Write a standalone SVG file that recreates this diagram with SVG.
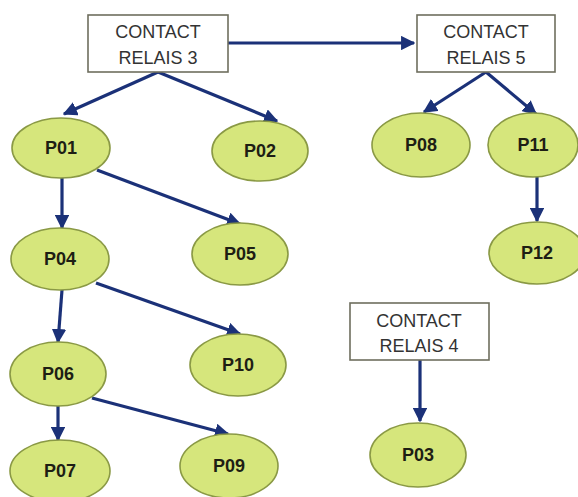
<svg xmlns="http://www.w3.org/2000/svg" width="578" height="497" viewBox="0 0 578 497">
<style>
.box{fill:#fff;stroke:#6e6e5e;stroke-width:1.6}
.bt{font-family:"Liberation Sans",Arial,sans-serif;font-size:18px;fill:#333;text-anchor:middle}
.el{fill:#d6e67c;stroke:#8a9945;stroke-width:1.6}
.et{font-family:"Liberation Sans",Arial,sans-serif;font-size:18px;font-weight:bold;fill:#1e1e14;text-anchor:middle}
.c{stroke:#1b3178;stroke-width:3.2;fill:none;marker-end:url(#ah)}
</style>
<defs>
<marker id="ah" viewBox="0 0 10 10" refX="9" refY="5" markerWidth="4.5" markerHeight="4.5" orient="auto" markerUnits="strokeWidth">
<path d="M0,0 L10,5 L0,10 z" fill="#1b3178"/>
</marker>
</defs>
<rect width="578" height="497" fill="#fff"/>
<g id="connectors">
<line class="c" x1="158" y1="72" x2="64" y2="114"/>
<line class="c" x1="158" y1="72" x2="277" y2="121"/>
<line class="c" x1="228" y1="43" x2="414" y2="43"/>
<line class="c" x1="486" y1="72" x2="424" y2="112"/>
<line class="c" x1="486" y1="72" x2="536" y2="114"/>
<line class="c" x1="537" y1="177" x2="537" y2="221"/>
<line class="c" x1="62" y1="178" x2="62" y2="228"/>
<line class="c" x1="97" y1="170" x2="240" y2="224"/>
<line class="c" x1="62" y1="290" x2="58" y2="342"/>
<line class="c" x1="96" y1="283" x2="240" y2="334"/>
<line class="c" x1="58" y1="406" x2="58" y2="440"/>
<line class="c" x1="92" y1="398" x2="228" y2="434"/>
<line class="c" x1="420" y1="360" x2="420" y2="421"/>
</g>
<g id="relais3"><rect class="box" x="88" y="15" width="140" height="57"/><text class="bt" x="158" y="38">CONTACT</text><text class="bt" x="158" y="64">RELAIS 3</text></g>
<g id="relais5"><rect class="box" x="417" y="15" width="138" height="57"/><text class="bt" x="486" y="38">CONTACT</text><text class="bt" x="486" y="64">RELAIS 5</text></g>
<g id="relais4"><rect class="box" x="350" y="303" width="139" height="57"/><text class="bt" x="419" y="327">CONTACT</text><text class="bt" x="419" y="352">RELAIS 4</text></g>
<g id="P01"><ellipse class="el" cx="61" cy="148" rx="49" ry="30"/><text class="et" x="61" y="154">P01</text></g>
<g id="P02"><ellipse class="el" cx="260" cy="151" rx="48" ry="30"/><text class="et" x="260" y="157">P02</text></g>
<g id="P08"><ellipse class="el" cx="421" cy="145" rx="49" ry="32"/><text class="et" x="421" y="151">P08</text></g>
<g id="P11"><ellipse class="el" cx="533" cy="145" rx="45" ry="32"/><text class="et" x="533" y="151">P11</text></g>
<g id="P12"><ellipse class="el" cx="537" cy="253" rx="48" ry="31"/><text class="et" x="537" y="259">P12</text></g>
<g id="P04"><ellipse class="el" cx="60" cy="259" rx="49" ry="31"/><text class="et" x="60" y="265">P04</text></g>
<g id="P05"><ellipse class="el" cx="240" cy="254" rx="48" ry="31"/><text class="et" x="240" y="260">P05</text></g>
<g id="P06"><ellipse class="el" cx="58" cy="374" rx="48" ry="32"/><text class="et" x="58" y="380">P06</text></g>
<g id="P10"><ellipse class="el" cx="238" cy="365" rx="48" ry="31"/><text class="et" x="238" y="371">P10</text></g>
<g id="P07"><ellipse class="el" cx="60" cy="471" rx="50" ry="31"/><text class="et" x="60" y="477">P07</text></g>
<g id="P09"><ellipse class="el" cx="229" cy="466" rx="49" ry="32"/><text class="et" x="229" y="472">P09</text></g>
<g id="P03"><ellipse class="el" cx="418" cy="455" rx="48" ry="32"/><text class="et" x="418" y="461">P03</text></g>
</svg>
